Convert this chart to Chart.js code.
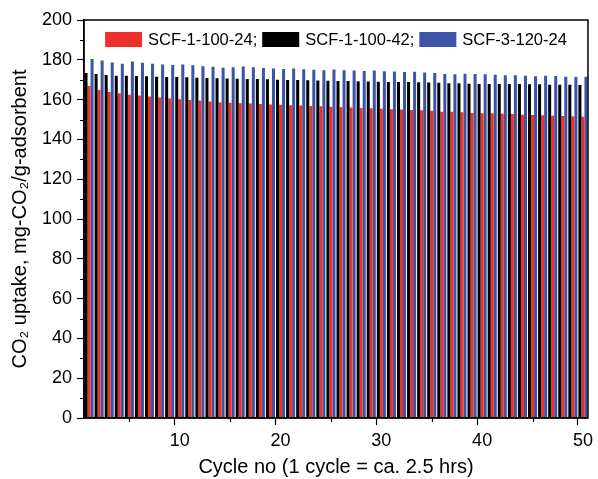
<!DOCTYPE html>
<html><head><meta charset="utf-8">
<script src="https://cdn.jsdelivr.net/npm/chart.js@4/dist/chart.umd.min.js"></script>
<style>html,body{margin:0;padding:0;background:#fff}#w{width:598px;height:479px;position:relative}</style>
</head><body><div id="w"><canvas id="c" width="598" height="479"></canvas></div>
<script>
const cycles = [1,2,3,4,5,6,7,8,9,10,11,12,13,14,15,16,17,18,19,20,21,22,23,24,25,26,27,28,29,30,31,32,33,34,35,36,37,38,39,40,41,42,43,44,45,46,47,48,49,50];
const scf_1_100_24 = [166.8,164.8,163.8,163.2,162.5,162.0,161.5,161.0,160.5,160.2,159.8,159.5,159.1,158.6,158.4,158.2,158.0,157.8,157.6,157.4,157.2,157.0,156.8,156.6,156.4,156.2,156.0,155.8,155.6,155.4,155.2,155.0,154.8,154.6,154.4,153.9,153.9,153.6,153.3,153.1,153.1,152.9,152.8,152.4,152.3,152.1,151.9,151.8,151.6,151.4];
const scf_1_100_42 = [173.4,172.9,172.4,172.0,172.0,171.9,171.7,171.5,171.4,171.4,171.2,171.0,170.9,170.7,170.6,170.5,170.4,170.3,170.2,170.0,169.9,169.8,169.7,169.6,169.5,169.4,169.3,169.2,169.1,169.0,168.9,168.9,168.8,168.7,168.6,168.5,168.2,168.2,168.0,167.9,167.9,167.9,167.9,167.9,167.7,167.7,167.5,167.5,167.5,167.3];
const scf_3_120_24 = [180.4,179.6,178.7,178.0,179.1,178.5,178.0,177.7,177.4,177.7,177.2,176.7,176.5,176.0,176.3,176.6,176.2,175.9,175.6,175.4,175.6,175.2,175.0,174.8,175.1,174.8,174.6,174.4,174.6,174.3,174.1,173.9,174.0,173.6,173.4,172.9,172.7,173.0,172.9,172.7,172.5,172.2,172.2,172.0,171.7,172.0,171.9,171.5,171.4,171.5];
const seriesLabels = ['SCF-1-100-24;', 'SCF-1-100-42;', 'SCF-3-120-24'];
const xMajorTicks = [10,20,30,40,50];
const xMinorTicks = [5,15,25,35,45];
const yMinorTicks = [10,30,50,70,90,110,130,150,170,190];
const xTitle = 'Cycle no (1 cycle = ca. 2.5 hrs)';
const yTitle = 'CO\u2082 uptake, mg-CO\u2082/g-adsorbent';

const FONT = 'Arial, "Liberation Sans", sans-serif';
const RED = 'rgb(237,49,42)', BLACK = '#000000', BLUE = 'rgb(59,84,168)';
const legendOrder = [1, 0, 2]; // dataset indices in legend order

const framePlugin = {
  id: 'frame',
  afterDraw(chart) {
    const {ctx, chartArea: a, scales} = chart;
    ctx.save();
    ctx.strokeStyle = '#000';
    ctx.lineWidth = 1.5;
    ctx.strokeRect(a.left, a.top, a.right - a.left, a.bottom - a.top);
    ctx.lineWidth = 1.2;
    ctx.beginPath();
    yMinorTicks.forEach(v => {
      const y = Math.round(scales.y.getPixelForValue(v)) + 0.5;
      ctx.moveTo(a.left - 4, y); ctx.lineTo(a.left, y);
    });
    xMinorTicks.forEach(v => {
      const x = Math.round(scales.x.getPixelForValue(cycles.indexOf(v))) + 0.5;
      ctx.moveTo(x, a.bottom); ctx.lineTo(x, a.bottom + 4);
    });
    ctx.stroke();

    // legend inside the plot area
    const bw = 37, bh = 15, gapText = 6, gapItem = 5;
    ctx.font = '16.5px ' + FONT;
    const items = legendOrder.map(i => {
      const ds = chart.data.datasets[i];
      return {text: ds.label, color: ds.backgroundColor, w: ctx.measureText(ds.label).width};
    });
    const total = items.reduce((s, it) => s + bw + gapText + it.w, 0) + gapItem * (items.length - 1);
    let x = (a.left + a.right) / 2 - total / 2;
    const top = a.top + 12;
    ctx.textBaseline = 'middle';
    ctx.textAlign = 'left';
    items.forEach(it => {
      ctx.fillStyle = it.color;
      ctx.fillRect(x, top, bw, bh);
      ctx.fillStyle = '#000';
      ctx.fillText(it.text, x + bw + gapText, top + bh / 2 + 1);
      x += bw + gapText + it.w + gapItem;
    });
    ctx.restore();
  }
};

new Chart(document.getElementById('c'), {
  type: 'bar',
  data: {
    labels: cycles.map(String),
    datasets: [
      {label: seriesLabels[1], data: scf_1_100_42, backgroundColor: BLACK},
      {label: seriesLabels[0], data: scf_1_100_24, backgroundColor: RED},
      {label: seriesLabels[2], data: scf_3_120_24, backgroundColor: BLUE}
    ]
  },
  options: {
    responsive: false,
    animation: false,
    devicePixelRatio: 1,
    layout: {padding: {top: 20, right: 6, left: 0, bottom: 0}},
    datasets: {bar: {categoryPercentage: 0.9, barPercentage: 1.0}},
    plugins: {
      tooltip: {enabled: false},
      legend: {display: false}
    },
    scales: {
      x: {
        type: 'category',
        offset: true,
        afterFit: s => { s.height = 61; },
        border: {display: true, color: '#000', width: 1.5},
        grid: {
          display: true, drawOnChartArea: false, drawTicks: true, tickLength: 7,
          tickWidth: 1.2,
          tickColor: ctx => (xMajorTicks.includes(cycles[ctx.index]) ? '#000' : 'rgba(0,0,0,0)')
        },
        ticks: {
          autoSkip: false, maxRotation: 0, padding: 5, color: '#000',
          font: {family: FONT, size: 18},
          callback: (v, i) => (xMajorTicks.includes(cycles[i]) ? String(cycles[i]) : '')
        },
        title: {display: true, text: xTitle, color: '#000', font: {family: FONT, size: 20}, padding: {top: 0, bottom: 0}}
      },
      y: {
        min: 0, max: 200,
        afterFit: s => { s.width = 84; },
        border: {display: true, color: '#000', width: 1.5},
        grid: {display: true, drawOnChartArea: false, drawTicks: true, tickLength: 7, tickWidth: 1.2, tickColor: '#000'},
        ticks: {stepSize: 20, padding: 5, color: '#000', font: {family: FONT, size: 18}},
        title: {display: true, text: yTitle, color: '#000', font: {family: FONT, size: 20}, padding: {top: 8, bottom: 0}}
      }
    }
  },
  plugins: [framePlugin]
});
</script>
</body></html>
